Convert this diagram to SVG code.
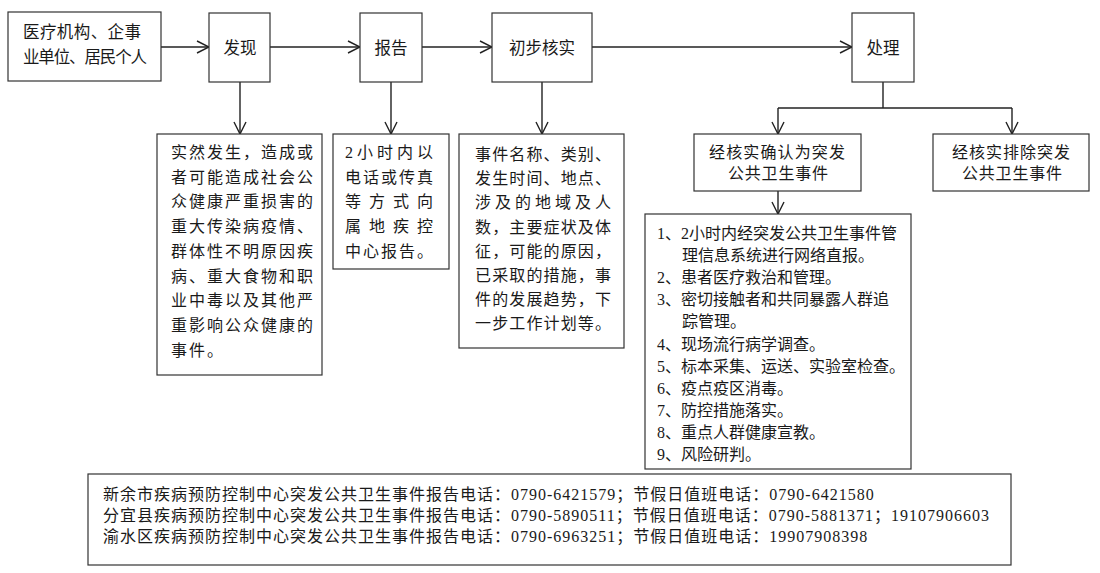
<svg xmlns="http://www.w3.org/2000/svg" width="1100" height="573" viewBox="0 0 1100 573">
<defs>
<style>
.box{fill:#fff;stroke:#333;stroke-width:1.2}
.ln{fill:none;stroke:#222;stroke-width:1.4}
.sans{font-family:"Noto Sans CJK SC","Liberation Sans",sans-serif;font-size:16.5px;fill:#1a1a1a}
.ser{font-family:"Liberation Serif","Noto Sans CJK SC",serif;font-size:16px;fill:#1a1a1a}
.ph{letter-spacing:1px}
.mid{text-anchor:middle}
</style>
<marker id="ah" markerUnits="userSpaceOnUse" markerWidth="14" markerHeight="14" viewBox="0 0 14 14" refX="13" refY="7" orient="auto">
<path d="M1,1 L13,7 L1,13" fill="none" stroke="#222" stroke-width="1.4"/>
</marker>
</defs>
<rect width="1100" height="573" fill="#fff"/>

<g id="connectors">
<line class="ln" x1="161" y1="47" x2="209" y2="47" marker-end="url(#ah)"/>
<line class="ln" x1="270" y1="47" x2="360" y2="47" marker-end="url(#ah)"/>
<line class="ln" x1="422" y1="47" x2="492" y2="47" marker-end="url(#ah)"/>
<line class="ln" x1="592" y1="47" x2="852" y2="47" marker-end="url(#ah)"/>
<line class="ln" x1="240" y1="82" x2="240" y2="134" marker-end="url(#ah)"/>
<line class="ln" x1="391" y1="82" x2="391" y2="134" marker-end="url(#ah)"/>
<line class="ln" x1="542" y1="82" x2="542" y2="134" marker-end="url(#ah)"/>
<polyline class="ln" points="883,82 883,108"/>
<polyline class="ln" points="778,108 1012,108"/>
<line class="ln" x1="778" y1="108" x2="778" y2="134" marker-end="url(#ah)"/>
<line class="ln" x1="1012" y1="108" x2="1012" y2="134" marker-end="url(#ah)"/>
<line class="ln" x1="778" y1="191" x2="778" y2="214" marker-end="url(#ah)"/>
</g>

<g id="n-source">
<rect class="box" x="8" y="12" width="153" height="69"/>
<text class="sans" x="23" y="38" textLength="118" lengthAdjust="spacing">医疗机构、企事</text>
<text class="sans" x="23" y="63" textLength="124" lengthAdjust="spacing">业单位、居民个人</text>
</g>

<g id="n-faxian">
<rect class="box" x="209" y="13" width="61" height="69"/>
<text class="sans mid" x="240" y="54">发现</text>
</g>

<g id="n-baogao">
<rect class="box" x="360" y="13" width="62" height="69"/>
<text class="sans mid" x="391" y="54">报告</text>
</g>

<g id="n-hecha">
<rect class="box" x="492" y="13" width="100" height="69"/>
<text class="sans mid" x="542" y="54">初步核实</text>
</g>

<g id="n-chuli">
<rect class="box" x="852" y="13" width="62" height="69"/>
<text class="sans mid" x="883" y="54">处理</text>
</g>

<g id="d-faxian">
<rect class="box" x="157" y="134" width="165" height="241"/>
<text class="ser" x="171" y="158" textLength="142" lengthAdjust="spacing">实然发生，造成或</text>
<text class="ser" x="171" y="182.7" textLength="142" lengthAdjust="spacing">者可能造成社会公</text>
<text class="ser" x="171" y="207.4" textLength="142" lengthAdjust="spacing">众健康严重损害的</text>
<text class="ser" x="171" y="232.1" textLength="142" lengthAdjust="spacing">重大传染病疫情、</text>
<text class="ser" x="171" y="256.8" textLength="142" lengthAdjust="spacing">群体性不明原因疾</text>
<text class="ser" x="171" y="281.5" textLength="142" lengthAdjust="spacing">病、重大食物和职</text>
<text class="ser" x="171" y="306.2" textLength="142" lengthAdjust="spacing">业中毒以及其他严</text>
<text class="ser" x="171" y="330.9" textLength="142" lengthAdjust="spacing">重影响公众健康的</text>
<text class="ser" x="171" y="355.6" textLength="52" lengthAdjust="spacing">事件。</text>
</g>

<g id="d-baogao">
<rect class="box" x="333" y="134" width="116" height="135"/>
<text class="ser" x="345" y="158" textLength="88" lengthAdjust="spacing">2小时内以</text>
<text class="ser" x="345" y="182.7" textLength="88" lengthAdjust="spacing">电话或传真</text>
<text class="ser" x="345" y="207.4" textLength="88" lengthAdjust="spacing">等方式向</text>
<text class="ser" x="345" y="232.1" textLength="88" lengthAdjust="spacing">属地疾控</text>
<text class="ser" x="345" y="256.8" textLength="88" lengthAdjust="spacing">中心报告。</text>
</g>

<g id="d-hecha">
<rect class="box" x="459" y="134" width="165" height="214"/>
<text class="ser" x="475" y="160" textLength="136" lengthAdjust="spacing">事件名称、类别、</text>
<text class="ser" x="475" y="184.2" textLength="136" lengthAdjust="spacing">发生时间、地点、</text>
<text class="ser" x="475" y="208.4" textLength="136" lengthAdjust="spacing">涉及的地域及人</text>
<text class="ser" x="475" y="232.6" textLength="136" lengthAdjust="spacing">数，主要症状及体</text>
<text class="ser" x="475" y="256.8" textLength="136" lengthAdjust="spacing">征，可能的原因，</text>
<text class="ser" x="475" y="281" textLength="136" lengthAdjust="spacing">已采取的措施，事</text>
<text class="ser" x="475" y="305.2" textLength="136" lengthAdjust="spacing">件的发展趋势，下</text>
<text class="ser" x="475" y="329.4" textLength="136" lengthAdjust="spacing">一步工作计划等。</text>
</g>

<g id="n-confirm">
<rect class="box" x="694" y="134" width="167" height="57"/>
<text class="ser" x="709" y="158" textLength="136" lengthAdjust="spacing">经核实确认为突发</text>
<text class="ser" x="728" y="179" textLength="100" lengthAdjust="spacing">公共卫生事件</text>
</g>

<g id="n-exclude">
<rect class="box" x="933" y="134" width="156" height="57"/>
<text class="ser" x="952" y="158" textLength="118" lengthAdjust="spacing">经核实排除突发</text>
<text class="ser" x="962" y="179" textLength="100" lengthAdjust="spacing">公共卫生事件</text>
</g>

<g id="d-measures">
<rect class="box" x="645" y="214" width="266" height="255"/>
<text class="ser" x="657" y="239">1、2小时内经突发公共卫生事件管</text>
<text class="ser" x="682" y="261.1">理信息系统进行网络直报。</text>
<text class="ser" x="657" y="283.2">2、患者医疗救治和管理。</text>
<text class="ser" x="657" y="305.3">3、密切接触者和共同暴露人群追</text>
<text class="ser" x="682" y="327.4">踪管理。</text>
<text class="ser" x="657" y="349.5">4、现场流行病学调查。</text>
<text class="ser" x="657" y="371.6">5、标本采集、运送、实验室检查。</text>
<text class="ser" x="657" y="393.7">6、疫点疫区消毒。</text>
<text class="ser" x="657" y="415.8">7、防控措施落实。</text>
<text class="ser" x="657" y="437.9">8、重点人群健康宣教。</text>
<text class="ser" x="657" y="460">9、风险研判。</text>
</g>

<g id="n-phones">
<rect class="box" x="88" y="474" width="923" height="91"/>
<text class="ser ph" x="103" y="500">新余市疾病预防控制中心突发公共卫生事件报告电话：0790-6421579；节假日值班电话：0790-6421580</text>
<text class="ser ph" x="103" y="521">分宜县疾病预防控制中心突发公共卫生事件报告电话：0790-5890511；节假日值班电话：0790-5881371；19107906603</text>
<text class="ser ph" x="103" y="542">渝水区疾病预防控制中心突发公共卫生事件报告电话：0790-6963251；节假日值班电话：19907908398</text>
</g>
</svg>
